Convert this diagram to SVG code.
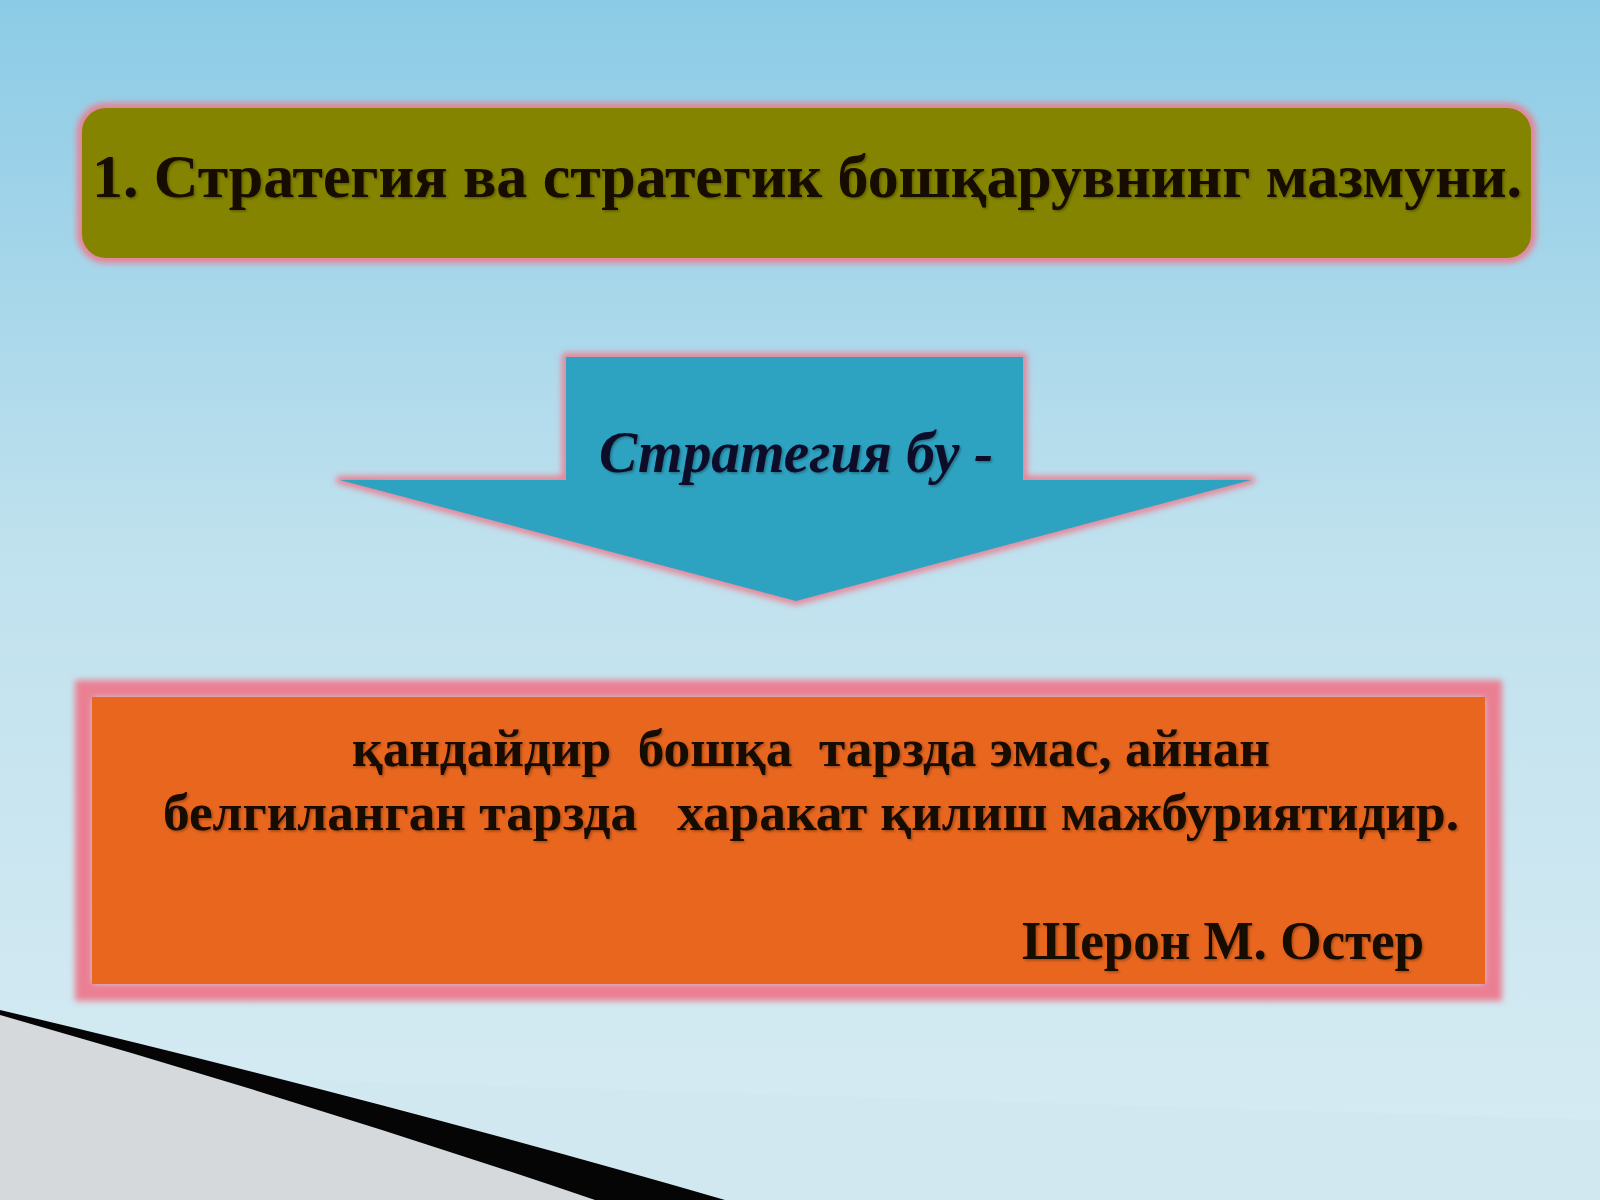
<svg xmlns="http://www.w3.org/2000/svg" width="1600" height="1200" viewBox="0 0 1600 1200">
  <defs>
    <linearGradient id="sky" x1="0" y1="0" x2="0" y2="1">
      <stop offset="0" stop-color="#8ccbe6"/>
      <stop offset="0.45" stop-color="#bfe1ee"/>
      <stop offset="1" stop-color="#d8ecf3"/>
    </linearGradient>
    <filter id="glow" x="-10%" y="-20%" width="120%" height="140%">
      <feGaussianBlur stdDeviation="3"/>
    </filter>
    <filter id="tshadow" x="-5%" y="-20%" width="110%" height="140%">
      <feDropShadow dx="1.5" dy="1.5" stdDeviation="1" flood-color="#000" flood-opacity="0.3"/>
    </filter>
  </defs>
  <style>
    .t { font-family: "Liberation Serif", "Times New Roman", serif; font-weight: bold; fill: #140800; }
    .glow { fill: none; stroke: #ea7f92; filter: url(#glow); }
  </style>
  <rect x="0" y="0" width="1600" height="1200" fill="url(#sky)"/>

  <!-- bottom-left decoration -->
  <g id="decoration">
    <polygon points="300,1080 1600,1120 1600,1200 720,1200" fill="#cfe6ee" opacity="0.6"/>
    <path d="M0,1015 Q300,1100 595,1200 L0,1200 Z" fill="#d6d9db"/>
    <path d="M0,1010 Q380,1100 725,1200 L595,1200 Q300,1100 0,1015 Z" fill="#050505"/>
  </g>

  <g id="title">
    <rect class="glow" x="82" y="108" width="1449" height="150" rx="24" stroke-width="10"/>
    <rect x="82" y="108" width="1449" height="150" rx="24" fill="#848400"/>
    <text class="t" x="807" y="197" font-size="61" text-anchor="middle" textLength="1430" lengthAdjust="spacingAndGlyphs" filter="url(#tshadow)">1. Стратегия ва стратегик бошқарувнинг мазмуни.</text>
  </g>

  <g id="arrow">
    <polygon class="glow" points="566,357 1023,357 1023,480 1251,480 796,601 340,480 566,480" stroke-width="8" stroke-linejoin="round"/>
    <polygon points="566,357 1023,357 1023,480 1251,480 796,601 340,480 566,480" fill="#2ea3c1"/>
    <text class="t" x="599" y="472" font-size="59" font-style="italic" textLength="394" lengthAdjust="spacingAndGlyphs" filter="url(#tshadow)" style="fill:#0b0b2a">Стратегия бу -</text>
  </g>

  <g id="quote">
    <rect class="glow" x="84" y="689" width="1409" height="303" stroke-width="18"/>
    <rect x="92" y="697" width="1393" height="287" fill="#e8661e"/>
    <text class="t" x="811" y="766" font-size="53" text-anchor="middle" xml:space="preserve" textLength="918" lengthAdjust="spacingAndGlyphs" filter="url(#tshadow)">қандайдир  бошқа  тарзда эмас, айнан</text>
    <text class="t" x="811" y="830" font-size="53" text-anchor="middle" xml:space="preserve" textLength="1296" lengthAdjust="spacingAndGlyphs" filter="url(#tshadow)">белгиланган тарзда   харакат қилиш мажбуриятидир.</text>
    <text class="t" x="1022" y="959" font-size="54" textLength="402" lengthAdjust="spacingAndGlyphs" filter="url(#tshadow)">Шерон М. Остер</text>
  </g>
</svg>
